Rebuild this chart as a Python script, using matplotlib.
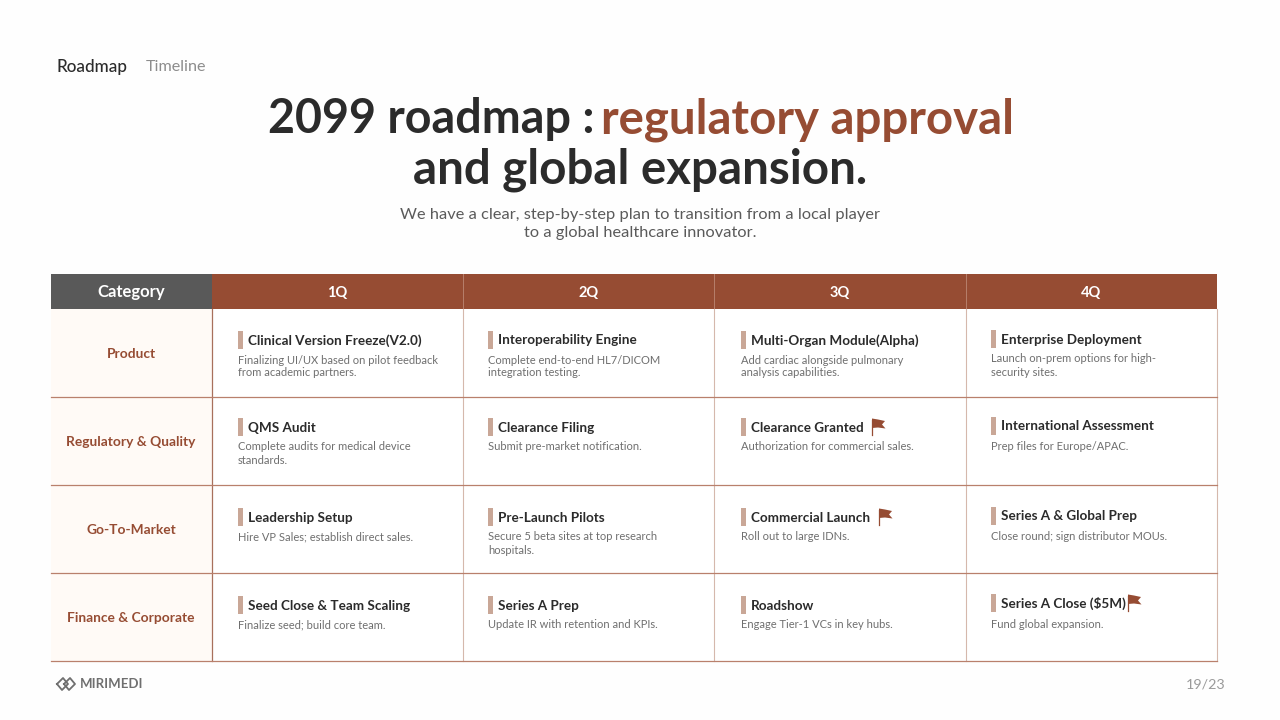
import matplotlib
matplotlib.use("Agg")
import matplotlib.pyplot as plt
from matplotlib.patches import Rectangle, Polygon

plt.rcParams['font.family'] = ['Lato', 'DejaVu Sans']

categories = ["Product", "Regulatory & Quality", "Go-To-Market", "Finance & Corporate"]
quarters = ["1Q", "2Q", "3Q", "4Q"]

titles = [
    ["Clinical Version Freeze(V2.0)", "Interoperability Engine", "Multi-Organ Module(Alpha)", "Enterprise Deployment"],
    ["QMS Audit", "Clearance Filing", "Clearance Granted", "International Assessment"],
    ["Leadership Setup", "Pre-Launch Pilots", "Commercial Launch", "Series A & Global Prep"],
    ["Seed Close & Team Scaling", "Series A Prep", "Roadshow", "Series A Close ($5M)"],
]
descs = [
    ["Finalizing UI/UX based on pilot feedback\nfrom academic partners.",
     "Complete end-to-end HL7/DICOM\nintegration testing.",
     "Add cardiac alongside pulmonary\nanalysis capabilities.",
     "Launch on-prem options for high-\nsecurity sites."],
    ["Complete audits for medical device\nstandards.",
     "Submit pre-market notification.",
     "Authorization for commercial sales.",
     "Prep files for Europe/APAC."],
    ["Hire VP Sales; establish direct sales.",
     "Secure 5 beta sites at top research\nhospitals.",
     "Roll out to large IDNs.",
     "Close round; sign distributor MOUs."],
    ["Finalize seed; build core team.",
     "Update IR with retention and KPIs.",
     "Engage Tier-1 VCs in key hubs.",
     "Fund global expansion."],
]
milestones = [(1, 2), (2, 2), (3, 3)]

# layout in pixels
col_x = [51, 212, 463, 714, 966, 1217]
row_y = [274, 309, 397, 485, 573, 661]
bar_x = [238, 488, 741, 991]
title_y = [[344.5, 344.5, 344.5, 343.5], [431.5, 431.5, 431.5, 430.5], [521.5, 521.5, 521.5, 520.5], [609.5, 609.5, 609.5, 607.5]]
desc_y = [[363.5, 363.5, 363.5, 362.5], [450.5, 450.5, 450.5, 450.5], [540.5, 540.5, 540.5, 539.5], [628.5, 628.5, 628.5, 627.5]]
flag_x = {(1, 2): 872, (2, 2): 879, (3, 3): 1128}

DARK = "#2b2b2b"
RUST = "#964c33"
GREY = "#6f6f6f"
LINE = "#b9806c"

fig = plt.figure(figsize=(12.8, 7.2), dpi=100, facecolor="#fefefe")
ax = fig.add_axes([0, 0, 1, 1])
ax.set_xlim(0, 1280)
ax.set_ylim(720, 0)
ax.axis("off")


def flag(x, y):
    ax.plot([x, x], [y - 7, y + 8], color=RUST, lw=0.9)
    ax.add_patch(Polygon([(x, y - 8), (x + 6, y - 7), (x + 13, y - 5.5), (x + 10, y - 2), (x + 13.5, y + 2),
                          (x + 6, y + 1), (x, y + 1.5)], closed=True, color=RUST, lw=0))


# top tabs
ax.text(57, 72, "Roadmap", fontsize=12.3, color=DARK, weight="medium")
ax.text(146, 71, "Timeline", fontsize=11.6, color="#8c8c8c")

# headline
ax.text(268, 133, "2099 roadmap : ", fontsize=33.6, color=DARK, weight="bold")
ax.text(601, 133, "regulatory approval", fontsize=34.1, color=RUST, weight="bold")
ax.text(640.5, 184, "and global expansion.", fontsize=34.2, color=DARK, ha="center", weight="bold")
ax.text(640, 219, "We have a clear, step-by-step plan to transition from a local player", fontsize=11.8,
        color="#5a5a5a", ha="center")
ax.text(640, 237.5, "to a global healthcare innovator.", fontsize=11.8, color="#5a5a5a", ha="center")

# header row
ax.add_patch(Rectangle((col_x[0], row_y[0]), col_x[1] - col_x[0], row_y[1] - row_y[0], color="#595959", lw=0))
ax.add_patch(Rectangle((col_x[1], row_y[0]), col_x[5] - col_x[1], row_y[1] - row_y[0], color=RUST, lw=0))
ax.text((col_x[0] + col_x[1]) / 2, 297, "Category", fontsize=12, color="white", ha="center", weight="bold")
for i, q in enumerate(quarters):
    ax.text((col_x[i + 1] + col_x[i + 2]) / 2, 297, q, fontsize=10.5, color="white", ha="center", weight="bold")
    if i > 0:
        ax.plot([col_x[i + 1]] * 2, [row_y[0], row_y[1]], color="#b77f6b", lw=0.7)

# category column
ax.add_patch(Rectangle((col_x[0], row_y[1]), col_x[1] - col_x[0], row_y[5] - row_y[1], color="#fffaf6", lw=0))
ax.add_patch(Rectangle((col_x[1], row_y[1]), col_x[5] - col_x[1], row_y[5] - row_y[1], color="white", lw=0))

for r, cat in enumerate(categories):
    ax.text(131, (row_y[r + 1] + row_y[r + 2]) / 2 + 5.5, cat, fontsize=9.9, color=RUST, ha="center", weight="bold")
    for c in range(4):
        x = bar_x[c]
        y = title_y[r][c]
        ax.add_patch(Rectangle((x, y - 13.5), 5, 18, color="#c9a797", lw=0))
        ax.text(x + 10, y, titles[r][c], fontsize=9.7, color=DARK, weight="bold")
        for k, line in enumerate(descs[r][c].split("\n")):
            ax.text(x, desc_y[r][c] + k * 13, line, fontsize=8.0, color=GREY)
        if (r, c) in milestones:
            flag(flag_x[(r, c)], y - 5)

# rules
for x in col_x[2:]:
    ax.plot([x, x], [row_y[1], row_y[5]], color="#d5b8ac", lw=0.8)
ax.plot([col_x[1]] * 2, [row_y[1], row_y[5]], color="#a8705c", lw=0.9)
for y in row_y[2:]:
    ax.plot([col_x[0], col_x[5]], [y, y], color=LINE, lw=0.9)

# footer
ax.plot([57, 63, 68, 62, 57], [684, 678, 684, 690, 684], color="#6f6f6f", lw=1.3)
ax.plot([64, 70, 75, 69, 64], [684, 678, 684, 690, 684], color="#6f6f6f", lw=1.3)
ax.text(80, 688, "MIRIMEDI", fontsize=9.5, color="#6f6f6f", weight="bold")
ax.text(1225, 688.5, "19/23", fontsize=10.3, color="#9a9a9a", ha="right")

fig.savefig("out.png", dpi=100, facecolor=fig.get_facecolor())
